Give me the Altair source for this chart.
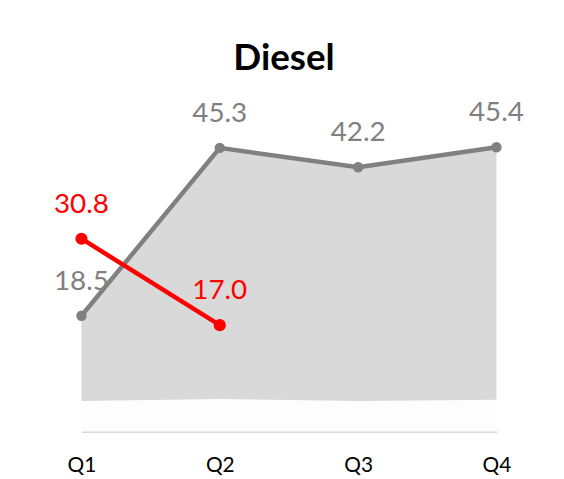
import altair as alt
import pandas as pd

quarters = ["Q1", "Q2", "Q3", "Q4"]
diesel = [18.5, 45.3, 42.2, 45.4]
area_base = [4.9, 5.2, 4.9, 5.1]
red_quarters = ["Q1", "Q2"]
red_values = [30.8, 17.0]

df = pd.DataFrame({"q": quarters, "v": diesel, "b": area_base, "z": [0] * 4})
dr = pd.DataFrame({"q": red_quarters, "v": red_values})

FONT = "Lato"
x = alt.X("q:N", sort=quarters, title=None,
          scale=alt.Scale(type="point", range=[70, 488], padding=0),
          axis=alt.Axis(labelAngle=0, ticks=False, domainColor="#d9d9d9", domainWidth=2,
                        labelFontSize=21, labelColor="#000000", labelFont=FONT,
                        labelPadding=23, grid=False))
y_scale = alt.Scale(domain=[0, 55], nice=False, zero=True)
y = alt.Y("v:Q", scale=y_scale, axis=None, title=None)

base = alt.Chart(df)
faint = base.mark_area(color="#fdfdfd").encode(x=x, y=alt.Y("b:Q", scale=y_scale, axis=None), y2="z:Q")
area = base.mark_area(color="#d9d9d9").encode(x=x, y=y, y2="b:Q")
line = base.mark_line(color="#808080", strokeWidth=4.5).encode(x=x, y=y)
pts = base.mark_circle(color="#808080", size=110, opacity=1).encode(x=x, y=y)
lbl = base.mark_text(color="#808080", fontSize=28, font=FONT, baseline="alphabetic", dy=-26).encode(
    x=x, y=y, text=alt.Text("v:Q", format=".1f"))

rb = alt.Chart(dr)
rline = rb.mark_line(color="#ff0000", strokeWidth=4.5).encode(x=x, y=y)
rpts = rb.mark_circle(color="#ff0000", size=150, opacity=1).encode(x=x, y=y)
rlbl = rb.mark_text(color="#ff0000", fontSize=28, font=FONT, baseline="alphabetic", dy=-26).encode(
    x=x, y=y, text=alt.Text("v:Q", format=".1f"))

chart = alt.layer(faint, area, line, pts, lbl, rline, rpts, rlbl).properties(
    width=538, height=347,
    title=alt.TitleParams("Diesel", fontSize=37, font=FONT, fontWeight="bold", color="#000000",
                          baseline="alphabetic", offset=13, dy=33, dx=5, anchor="middle"),
    autosize=alt.AutoSizeParams(type="none"),
    padding={"left": 4, "top": 78, "right": 10, "bottom": 44},
).configure_view(stroke=None)

chart.save("out.html", embed_options={"renderer": "svg", "actions": False})
